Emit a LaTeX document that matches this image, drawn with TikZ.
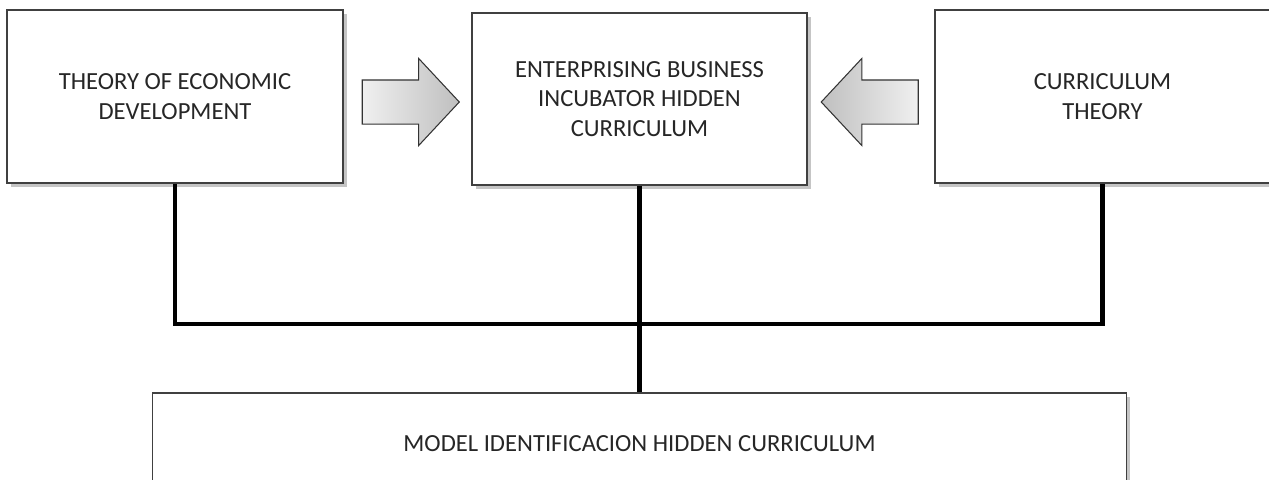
\documentclass[tikz,border=0pt]{standalone}
\usepackage{fontspec}
\setmainfont{Carlito}
\usetikzlibrary{shapes.arrows, shadows}

\begin{document}
\begin{tikzpicture}[
    every node/.style={font=\fontsize{14}{17}\selectfont, text=black!85},
    block/.style={draw=black!75, line width=1.1pt, fill=white, align=center,
      drop shadow={shadow xshift=2pt, shadow yshift=-2pt, fill=black!45}},
    fatarrow/.style={single arrow, draw=black!80, line width=0.6pt,
      inner xsep=0pt, inner ysep=0.43cm, minimum height=1.94cm,
      single arrow head extend=0.43cm, single arrow tip angle=94},
    link/.style={line width=2.3pt, black}]
  \useasboundingbox (0,0) rectangle (25.38,-9.58);
  \begin{scope}
  \clip (0,0) rectangle (25.38,-9.58);
  \node[block, minimum width=6.72cm, minimum height=3.46cm] (econ) at (3.50,-1.93) {THEORY OF ECONOMIC\\DEVELOPMENT};
  \node[block, minimum width=6.70cm, minimum height=3.44cm] (hub) at (12.79,-1.98) {ENTERPRISING BUSINESS\\INCUBATOR HIDDEN\\CURRICULUM};
  \node[block, minimum width=6.70cm, minimum height=3.46cm] (curric) at (22.05,-1.93) {CURRICULUM\\THEORY};
  \node[block, minimum width=19.48cm, minimum height=2.04cm] (model) at (12.79,-8.88) {MODEL IDENTIFICACION HIDDEN CURRICULUM};
  % block arrows between the top boxes
  \node[fatarrow, left color=gray!12, right color=gray!50] (toHub) at (8.01,-2.04) {};
  \node[fatarrow, shape border rotate=180, left color=gray!50, right color=gray!12] (fromCurric) at (17.60,-2.04) {};
  % connectors
  \coordinate (junction) at (12.79,-6.48);
  \draw[link] (econ.south) |- (junction) -| (curric.south);
  \draw[link] (hub.south) -- (model.north);
  \end{scope}
\end{tikzpicture}
\end{document}
